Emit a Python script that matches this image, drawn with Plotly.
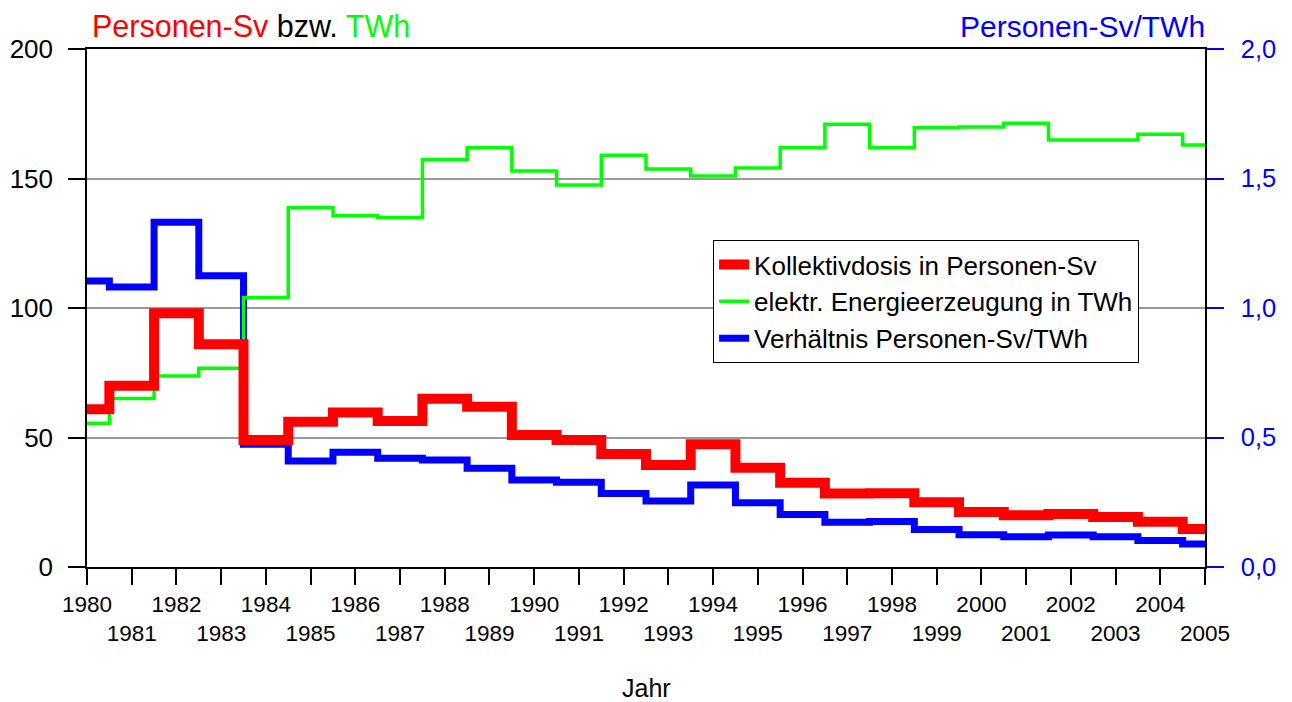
import plotly.graph_objects as go

# Jahre 1980 .. 2005
years = list(range(1980, 2006))

# Kollektivdosis in Personen-Sv
dose = [60.9, 70.0, 98.0, 86.0, 49.0, 56.1, 59.7, 56.4, 65.0, 61.9,
        51.0, 49.0, 43.6, 39.4, 47.4, 38.3, 32.5, 28.4, 28.5, 25.0,
        21.2, 20.0, 20.5, 19.3, 17.5, 14.7]

# elektr. Energieerzeugung in TWh
energy = [55.5, 65.1, 73.7, 76.7, 104.1, 138.7, 135.6, 134.9, 157.2, 161.9,
          152.9, 147.5, 159.0, 153.7, 151.0, 154.1, 161.9, 170.9, 161.9, 169.6,
          169.9, 171.3, 164.9, 164.9, 167.1, 162.9]

# Verhaeltnis Personen-Sv/TWh
ratio = [1.104, 1.081, 1.331, 1.125, 0.474, 0.409, 0.443, 0.420, 0.413, 0.381,
         0.336, 0.327, 0.284, 0.255, 0.317, 0.248, 0.203, 0.173, 0.176, 0.145,
         0.125, 0.117, 0.124, 0.117, 0.102, 0.089]

tick_text = [str(y) if y % 2 == 0 else "<br>" + str(y) for y in years]

left_ticks = [0, 50, 100, 150, 200]
right_ticks = [0.0, 0.5, 1.0, 1.5, 2.0]

RED = "#FF0000"
GREEN = "#00FF00"
BLUE = "#0000FF"
FONT = "Liberation Sans, Arial, sans-serif"

fig = go.Figure()

# blue sits on the base axis so that red and green are painted over it
fig.add_trace(go.Scatter(
    x=years, y=ratio, mode="lines", line_shape="hvh",
    line=dict(color=BLUE, width=7),
    name="Verhältnis Personen-Sv/TWh", yaxis="y",
))
fig.add_trace(go.Scatter(
    x=years, y=energy, mode="lines", line_shape="hvh",
    line=dict(color=GREEN, width=3.5),
    name="elektr. Energieerzeugung in TWh", yaxis="y2",
))
fig.add_trace(go.Scatter(
    x=years, y=dose, mode="lines", line_shape="hvh",
    line=dict(color=RED, width=10),
    name="Kollektivdosis in Personen-Sv", yaxis="y2",
))

# the page body adds an 8px offset, so the margins are trimmed by that much
fig.update_layout(
    width=1292, height=702,
    margin=dict(l=79, r=95, t=41, b=143, autoexpand=False),
    paper_bgcolor="white", plot_bgcolor="white",
    font=dict(family=FONT, size=22, color="black"),
    separators=",.",
    showlegend=True,
    legend=dict(
        x=0.56, y=0.631, xanchor="left", yanchor="top",
        traceorder="reversed",
        bgcolor="white", bordercolor="black", borderwidth=1,
        font=dict(family=FONT, size=26),
    ),
    xaxis=dict(
        range=[1980, 2005], automargin=False,
        tickmode="array", tickvals=years, ticktext=tick_text, tickangle=0,
        ticks="outside", ticklen=16, tickcolor="black", tickwidth=1.5,
        tickfont=dict(size=22.5),
        showline=True, linecolor="black", linewidth=1.5, mirror=True,
        showgrid=False, zeroline=False,
    ),
    yaxis=dict(
        side="right", range=[0, 2], automargin=False,
        tickmode="array", tickvals=right_ticks, tickformat=".1f",
        ticks="outside", ticklen=17, tickcolor=BLUE, tickwidth=1.5,
        ticklabelstandoff=12,
        tickfont=dict(size=25.5, color=BLUE),
        showline=True, linecolor="black", linewidth=1.5,
        showgrid=True, gridcolor="#999999", gridwidth=1.5,
        zeroline=False,
    ),
    yaxis2=dict(
        overlaying="y", side="left", range=[0, 200], automargin=False,
        tickmode="array", tickvals=left_ticks,
        ticks="outside", ticklen=17, tickcolor="black", tickwidth=1.5,
        ticklabelstandoff=10,
        tickfont=dict(size=26, color="black"),
        showline=True, linecolor="black", linewidth=1.5,
        showgrid=False, zeroline=False,
    ),
)

fig.add_annotation(
    xref="paper", yref="paper", x=0, y=1, xanchor="left", yanchor="middle",
    xshift=3, yshift=23, showarrow=False,
    text="<span style='color:#FF0000'>Personen-Sv</span> bzw. "
         "<span style='color:#00FF00'>TWh</span>",
    font=dict(family=FONT, size=30.5, color="black"),
)
fig.add_annotation(
    xref="paper", yref="paper", x=1, y=1, xanchor="right", yanchor="middle",
    xshift=2, yshift=23, showarrow=False,
    text="Personen-Sv/TWh",
    font=dict(family=FONT, size=30, color=BLUE),
)
fig.add_annotation(
    xref="paper", yref="paper", x=0.5, y=0, xanchor="center", yanchor="middle",
    yshift=-121, showarrow=False,
    text="Jahr",
    font=dict(family=FONT, size=25, color="black"),
)

fig.write_html("out.html")
